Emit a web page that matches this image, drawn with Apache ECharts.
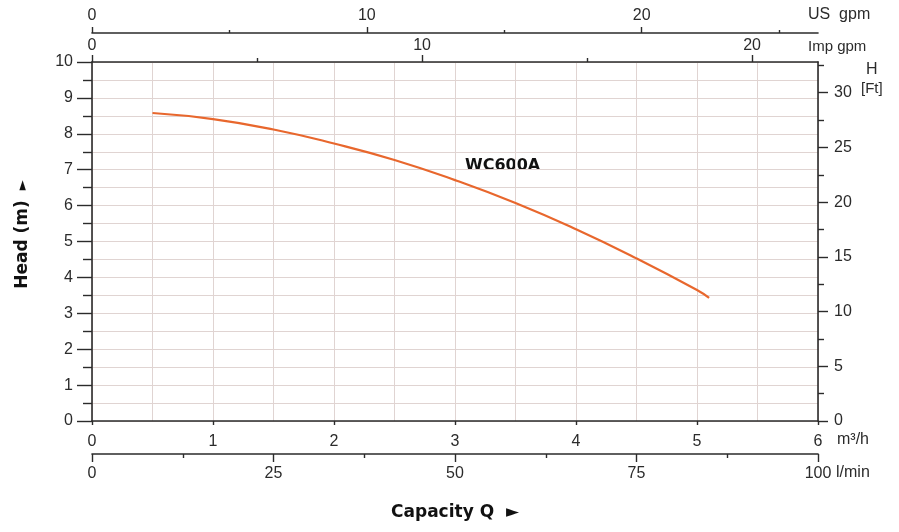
<!DOCTYPE html>
<html>
<head>
<meta charset="utf-8">
<script src="https://cdn.jsdelivr.net/npm/echarts@6/dist/echarts.min.js"></script>
<style>html,body{margin:0;padding:0;background:#fff}#c{width:899px;height:532px}</style>
</head>
<body>
<div id="c"></div>
<script>
// ---- data ----
const flowM3h = [0.5, 1.0, 1.5, 2.0, 2.5, 3.0, 3.5, 4.0, 4.5, 5.0, 5.1];
const headM   = [8.58, 8.41, 8.12, 7.73, 7.27, 6.71, 6.07, 5.34, 4.53, 3.65, 3.43];
const seriesName = 'WC600A';
const ftMajor = [0,5,10,15,20,25,30];
const ftMinor = [2.5,7.5,12.5,17.5,22.5,27.5,32.5];
const usMajor = [0,10,20];
const usMinor = [5,15,25];
const impMajor = [0,10,20];
const impMinor = [5,15];

// unit conversions (axis ranges)
const M3H_MAX = 6, HEAD_MAX = 10;
const FT_MAX = HEAD_MAX / 0.3048;
const US_MAX = M3H_MAX * 4.40287;
const IMP_MAX = M3H_MAX * 3.66615;
const LMIN_MAX = M3H_MAX * 1000 / 60;

const AX = '#2b2b2b';
const GRIDC = '#e0d4d2';
const TXT = '#2b2b2b';
const FONT = 'Liberation Sans';
const BOLD = 'DejaVu Sans';
const lbl = (m, extra) => Object.assign({color: TXT, fontFamily: FONT, fontSize: 16, margin: m}, extra || {});
const line = {show: true, onZero: false, lineStyle: {color: AX, width: 1.6}};
const noLine = {show: false, onZero: false};

const chart = echarts.init(document.getElementById('c'));
chart.setOption({
  animation: false,
  backgroundColor: '#fff',
  grid: {left: 92, right: 81, top: 62, bottom: 111, containLabel: false},
  xAxis: [
    { // 0 main m3/h
      type: 'value', position: 'bottom', min: 0, max: M3H_MAX, interval: 1,
      axisLine: line, axisTick: {show: true, length: 4, lineStyle: {color: AX, width: 1.4}},
      axisLabel: lbl(13), splitLine: {show: false}
    },
    { // 1 grid lines
      type: 'value', position: 'bottom', min: 0, max: M3H_MAX, interval: 0.5,
      axisLine: noLine, axisTick: {show: false}, axisLabel: {show: false},
      splitLine: {show: true, lineStyle: {color: GRIDC, width: 1}}
    },
    { // 2 l/min
      type: 'value', position: 'bottom', offset: 33, min: 0, max: LMIN_MAX, interval: 25,
      axisLine: line, axisTick: {show: true, length: 8, lineStyle: {color: AX, width: 1.4}},
      minorTick: {show: true, splitNumber: 2, length: 4, lineStyle: {color: AX, width: 1.4}},
      axisLabel: lbl(12), splitLine: {show: false},
      name: 'Capacity Q  \u25BA', nameLocation: 'middle', nameGap: 50,
      nameTextStyle: {fontFamily: BOLD, fontWeight: 'bold', fontSize: 17, color: '#111'}
    },
    { // 3 Imp gpm major
      type: 'value', position: 'top', offset: 0, min: 0, max: IMP_MAX,
      axisLine: line,
      axisTick: {show: true, length: 7, customValues: impMajor, lineStyle: {color: AX, width: 1.4}},
      axisLabel: lbl(8, {customValues: impMajor}), splitLine: {show: false}
    },
    { // 4 Imp gpm minor
      type: 'value', position: 'top', offset: 0, min: 0, max: IMP_MAX,
      axisLine: noLine,
      axisTick: {show: true, length: 4, customValues: impMinor, lineStyle: {color: AX, width: 1.4}},
      axisLabel: {show: false}, splitLine: {show: false}
    },
    { // 5 US gpm major
      type: 'value', position: 'top', offset: 29, min: 0, max: US_MAX,
      axisLine: line,
      axisTick: {show: true, length: 6, customValues: usMajor, lineStyle: {color: AX, width: 1.4}},
      axisLabel: lbl(9, {customValues: usMajor}), splitLine: {show: false}
    },
    { // 6 US gpm minor
      type: 'value', position: 'top', offset: 29, min: 0, max: US_MAX,
      axisLine: noLine,
      axisTick: {show: true, length: 3, customValues: usMinor, lineStyle: {color: AX, width: 1.4}},
      axisLabel: {show: false}, splitLine: {show: false}
    }
  ],
  yAxis: [
    { // 0 head m
      type: 'value', position: 'left', min: 0, max: HEAD_MAX, interval: 1,
      axisLine: line,
      axisTick: {show: true, length: 15, lineStyle: {color: AX, width: 1.4}},
      minorTick: {show: true, splitNumber: 2, length: 9, lineStyle: {color: AX, width: 1.4}},
      axisLabel: lbl(19), splitLine: {show: false},
      name: '{t|Head (m)}   {a|\u25BA}', nameLocation: 'middle', nameGap: 61, nameRotate: 90,
      nameTextStyle: {
        color: '#111', padding: [0, 0, 0, 14],
        rich: {
          t: {fontFamily: BOLD, fontWeight: 'bold', fontSize: 17, color: '#111', verticalAlign: 'middle'},
          a: {fontFamily: BOLD, fontSize: 13, color: '#111', verticalAlign: 'middle'}
        }
      }
    },
    { // 1 grid lines
      type: 'value', position: 'left', min: 0, max: HEAD_MAX, interval: 0.5,
      axisLine: noLine, axisTick: {show: false}, axisLabel: {show: false},
      splitLine: {show: true, lineStyle: {color: GRIDC, width: 1}}
    },
    { // 2 ft major
      type: 'value', position: 'right', min: 0, max: FT_MAX,
      axisLine: line,
      axisTick: {show: true, length: 10, customValues: ftMajor, lineStyle: {color: AX, width: 1.4}},
      axisLabel: lbl(16, {customValues: ftMajor}), splitLine: {show: false}
    },
    { // 3 ft minor
      type: 'value', position: 'right', min: 0, max: FT_MAX,
      axisLine: noLine,
      axisTick: {show: true, length: 6, customValues: ftMinor, lineStyle: {color: AX, width: 1.4}},
      axisLabel: {show: false}, splitLine: {show: false}
    }
  ],
  series: [{
    name: seriesName, type: 'line', xAxisIndex: 0, yAxisIndex: 0,
    data: flowM3h.map((q, i) => [q, headM[i]]),
    smooth: true, showSymbol: false, symbol: 'none',
    lineStyle: {color: '#E8672D', width: 2.2}
  }],
  graphic: [
    {type: 'text', left: 465, top: 158, style: {text: seriesName, font: 'bold 16px "DejaVu Sans"', fill: '#111'}},
    {type: 'text', left: 808, top: 7, style: {text: 'US  gpm', font: '16px "Liberation Sans"', fill: TXT}},
    {type: 'text', left: 808, top: 39, style: {text: 'Imp gpm', font: '15px "Liberation Sans"', fill: TXT}},
    {type: 'text', left: 866, top: 62, style: {text: 'H', font: '16px "Liberation Sans"', fill: TXT}},
    {type: 'text', left: 861, top: 81, style: {text: '[Ft]', font: '15px "Liberation Sans"', fill: TXT}},
    {type: 'text', left: 837, top: 432, style: {text: 'm\u00B3/h', font: '16px "Liberation Sans"', fill: TXT}},
    {type: 'text', left: 836, top: 465, style: {text: 'l/min', font: '16px "Liberation Sans"', fill: TXT}}
  ]
});
</script>
</body>
</html>
